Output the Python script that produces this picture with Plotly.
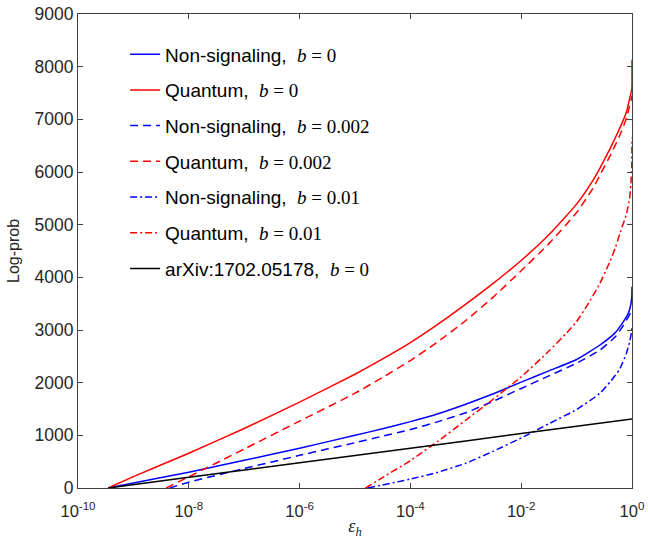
import plotly.graph_objects as go

# ---------------- data ----------------
# Quantum, b = 0
x_q0 = [3.5e-10, 1e-9, 1e-8, 1e-7, 1e-6, 1e-5, 3.16e-5, 1e-4, 3.16e-4, 1e-3, 3.16e-3, 1e-2, 3.16e-2, 1e-1, 0.2, 0.264, 0.4, 0.5, 0.631, 0.8, 0.9, 0.95, 0.99, 0.999, 1.0]
y_q0 = [0, 215, 660, 1130, 1630, 2160, 2450, 2760, 3110, 3490, 3890, 4320, 4807, 5390, 5850, 6075, 6440, 6650, 6880, 7150, 7380, 7480, 7580, 7700, 8130]

# Quantum, b = 0.002
x_q2 = [3.9e-9, 1e-8, 1e-7, 1e-6, 1e-5, 3.16e-5, 1e-4, 3.16e-4, 1e-3, 3.16e-3, 1e-2, 3.16e-2, 1e-1, 0.2, 0.264, 0.4, 0.5, 0.631, 0.8, 0.9, 0.95, 0.99, 1.0]
y_q2 = [0, 213, 740, 1270, 1800, 2100, 2420, 2780, 3180, 3630, 4125, 4640, 5230, 5700, 5943, 6300, 6510, 6750, 7030, 7250, 7340, 7420, 7450]

# Non-signaling, b = 0
x_n0 = [3.5e-10, 1e-9, 1e-8, 1e-7, 1e-6, 1e-5, 3.16e-5, 1e-4, 3.16e-4, 1e-3, 3.16e-3, 1e-2, 3.16e-2, 1e-1, 0.264, 0.5, 0.69, 0.86, 0.95, 0.99, 1.0]
y_n0 = [0, 95, 300, 525, 755, 1000, 1125, 1260, 1410, 1590, 1790, 2010, 2225, 2440, 2715, 2950, 3150, 3320, 3480, 3620, 3822]

# Non-signaling, b = 0.002
x_n2 = [4.5e-9, 1e-8, 1e-7, 1e-6, 1e-5, 3.16e-5, 1e-4, 3.16e-4, 1e-3, 3.16e-3, 1e-2, 3.16e-2, 1e-1, 0.264, 0.5, 0.69, 0.86, 0.95, 1.0]
y_n2 = [0, 110, 370, 620, 860, 985, 1110, 1260, 1430, 1650, 1890, 2130, 2370, 2620, 2870, 3080, 3250, 3330, 3360]

# Non-signaling, b = 0.01
x_n10 = [1.7e-5, 1e-4, 3.16e-4, 1e-3, 3.16e-3, 1e-2, 3.16e-2, 1e-1, 0.264, 0.4, 0.5, 0.607, 0.794, 0.9, 0.95, 0.99, 1.0]
y_n10 = [0, 170, 300, 470, 700, 950, 1220, 1490, 1800, 2010, 2140, 2270, 2560, 2760, 2880, 3000, 3090]

# Quantum, b = 0.01
x_q10 = [1.55e-5, 3.16e-5, 1e-4, 3.16e-4, 1e-3, 3.16e-3, 1e-2, 3.16e-2, 6.6e-2, 1e-1, 0.158, 0.264, 0.4, 0.5, 0.607, 0.794, 0.847, 0.9, 0.95, 0.99, 1.0]
y_q10 = [0, 200, 520, 890, 1290, 1690, 2110, 2600, 2943, 3160, 3480, 3886, 4300, 4560, 4840, 5200, 5341, 5480, 5750, 6150, 6650]

# arXiv:1702.05178, b = 0
x_arx = [3.5e-10, 1e-8, 1e-6, 1e-4, 1e-2, 1.0]
y_arx = [0, 202, 479, 756, 1033, 1310]

x_tickvals = [1e-10, 1e-8, 1e-6, 1e-4, 1e-2, 1e0]
x_ticktext = ["10<sup>-10</sup>", "10<sup>-8</sup>", "10<sup>-6</sup>", "10<sup>-4</sup>", "10<sup>-2</sup>", "10<sup>0</sup>"]
y_tickvals = [0, 1000, 2000, 3000, 4000, 5000, 6000, 7000, 8000, 9000]

MATH = "font-family:'Liberation Serif'"
def lab(name, b):
    return f"{name},  <span style=\"{MATH}\"><i>b</i> = {b}</span>"

series = [
    (x_n0, y_n0, lab("Non-signaling", "0"), "#0000ff", "solid"),
    (x_q0, y_q0, lab("Quantum", "0"), "#ff0000", "solid"),
    (x_n2, y_n2, lab("Non-signaling", "0.002"), "#0000ff", "8px,5px"),
    (x_q2, y_q2, lab("Quantum", "0.002"), "#ff0000", "8px,5px"),
    (x_n10, y_n10, lab("Non-signaling", "0.01"), "#0000ff", "7px,3px,2px,3px"),
    (x_q10, y_q10, lab("Quantum", "0.01"), "#ff0000", "7px,3px,2px,3px"),
    (x_arx, y_arx, lab("arXiv:1702.05178", "0"), "#000000", "solid"),
]

fig = go.Figure()
for i, (xs, ys, name, col, dash) in enumerate(series):
    fig.add_trace(go.Scatter(
        x=xs, y=ys, mode="lines", name=name, legendgroup=f"g{i}",
        line=dict(color=col, width=1.5, dash=dash, shape="spline", smoothing=0.5),
    ))

axis_common = dict(
    showline=True, linecolor="#404040", linewidth=1, mirror="ticks",
    ticks="inside", ticklen=5, tickwidth=1, tickcolor="#404040",
    showgrid=False, zeroline=False, automargin=False,
)

fig.update_xaxes(
    type="log", range=[-10, 0], tickvals=x_tickvals, ticktext=x_ticktext,
    tickfont=dict(family="Liberation Sans, Arial", size=16.5, color="#262626"),
    ticklabelstandoff=8,
    title=dict(text="<i>ε</i><sub><i>h</i></sub>", font=dict(family="Liberation Serif", size=18, color="#262626"), standoff=2),
    **axis_common,
)
fig.update_yaxes(
    range=[0, 9000], tickvals=y_tickvals,
    tickfont=dict(family="Liberation Sans, Arial", size=17.5, color="#262626"),
    title=dict(text="Log-prob", font=dict(family="Liberation Sans, Arial", size=16, color="#262626"), standoff=10),
    **axis_common,
)

fig.update_layout(
    width=648, height=539,
    margin=dict(l=78, r=16, t=14, b=51),
    plot_bgcolor="white", paper_bgcolor="white",
    legend=dict(
        x=0.085, y=0.955, xanchor="left", yanchor="top",
        bgcolor="rgba(0,0,0,0)", borderwidth=0,
        font=dict(family="Liberation Sans, Arial", size=19, color="#000000"),
        tracegroupgap=8,
    ),
)

fig.write_html("out.html", config={"displayModeBar": False},
               post_script="document.body.style.margin='0px';")
